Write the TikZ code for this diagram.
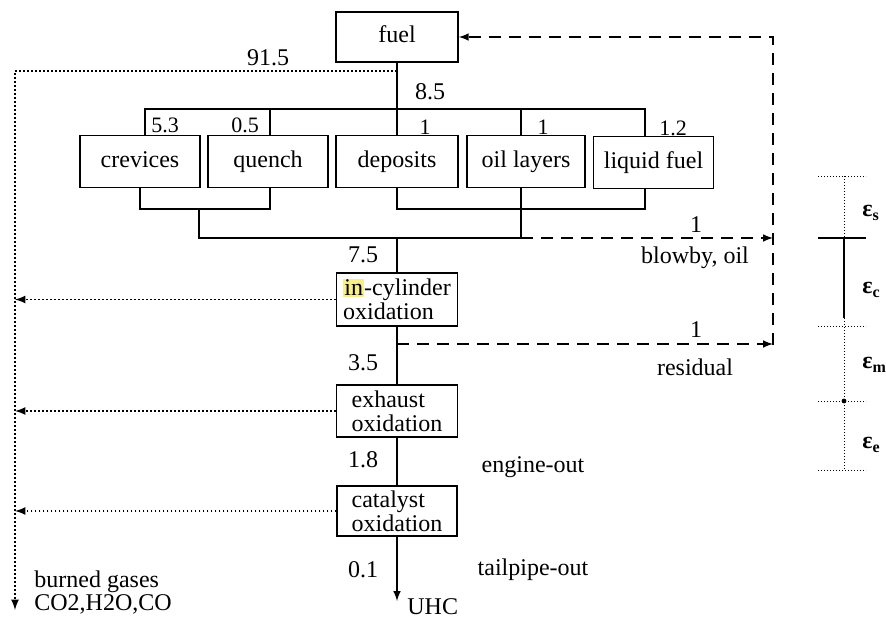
\documentclass[tikz,border=0pt]{standalone}
\usepackage{fontspec}
\setmainfont{Liberation Serif}
\definecolor{hilite}{RGB}{246,240,140}
\newcommand{\hlmark}[1]{{\setlength{\fboxsep}{0.6pt}\colorbox{hilite}{#1}}}
\newcommand{\effsym}[1]{\textbf{ε}\textsubscript{\textbf{#1}}}
\tikzset{
  box/.style={draw, line width=0.7pt, minimum width=60pt, minimum height=26pt,
    inner sep=2pt, align=left, font=\fontsize{12}{12}\selectfont},
  rowbox/.style={box, text height=8.5pt, text depth=2.5pt},
  lbl/.style={font=\fontsize{12}{13}\selectfont, inner sep=0pt},
  sublbl/.style={font=\fontsize{11}{12}\selectfont, inner sep=0pt},
  epslbl/.style={font=\fontsize{12}{12}\selectfont, inner sep=0pt},
  flow/.style={line width=0.7pt},
  loopback/.style={line width=0.7pt, dash pattern=on 6pt off 4pt},
  burn/.style={line width=0.8pt, dash pattern=on 0.8pt off 1.2pt},
  tick/.style={line width=0.5pt, dash pattern=on 0.6pt off 0.9pt},
}
\begin{document}
\begin{tikzpicture}[x=0.5pt,y=-0.5pt]
\useasboundingbox (0,0) rectangle (886,620);

% Boxes
\node[rowbox, minimum width=61pt, minimum height=25pt] (fuel) at (397,37) {fuel};
\node[rowbox] (crev) at (140,161.5) {crevices};
\node[rowbox] (quench) at (268,161.5) {quench};
\node[rowbox, minimum width=61pt] (dep) at (397,161.5) {deposits};
\node[rowbox, minimum width=59pt] (oil) at (526,161.5) {oil layers};
\node[rowbox] (liq) at (653.5,162.5) {liquid fuel};
\node[box, minimum width=60.5pt, minimum height=26.5pt] (cyl) at (397,299.5) {\hlmark{in}-cylinder\\oxidation};
\node[box, minimum width=60.5pt] (exh) at (397,411) {exhaust\\oxidation};
\node[box, minimum height=25pt] (cat) at (397,511) {catalyst\\oxidation};
\node[lbl, anchor=west] (uhc) at (407,607) {UHC};

% Branch points
\coordinate (split) at (397,71);
\coordinate (busL) at (145,109);
\coordinate (busR) at (645,109);
\coordinate (qx) at (270,109);
\coordinate (ox) at (521,109);
\coordinate (uL1) at (140,209);
\coordinate (uL2) at (270,209);
\coordinate (uR1) at (397,209);
\coordinate (uR2) at (645,209);
\coordinate (cL) at (199,209);
\coordinate (join) at (199,238);
\coordinate (merge) at (397,238);
\coordinate (blow) at (521,238);
\coordinate (res) at (397,344);
\coordinate (ret) at (773,37);
\coordinate (retB) at (773,345);
\coordinate (burnT) at (15,71);
\coordinate (burnB) at (15,610);
\coordinate (tail) at (397,601);

% Main flow
\draw[flow] (fuel) -- (dep);
\draw[flow] (busL |- crev.north) -- (busL) -- (busR) -- (busR |- liq.north);
\draw[flow] (qx) -- (qx |- quench.north);
\draw[flow] (ox) -- (ox |- oil.north);
\draw[flow] (uL1 |- crev.south) -- (uL1) -- (uL2) -- (uL2 |- quench.south);
\draw[flow] (uR1 |- dep.south) -- (uR1) -- (uR2) -- (uR2 |- liq.south);
\draw[flow] (cL) -- (join) -- (blow) -- (blow |- oil.south);
\draw[flow] (merge) -- (cyl);
\draw[flow] (cyl) -- (exh);
\draw[flow] (exh) -- (cat);
\draw[flow,-latex] (cat) -- (tail);

% Recycled to fuel
\draw[loopback,-latex] (retB) -- (ret) -- (fuel.east);
\draw[loopback,-latex] (blow) -- (blow -| ret);
\draw[loopback,-latex] (res) -- (res -| ret);

% Burned gases
\draw[burn,-latex] (split) -- (burnT) -- (burnB);
\foreach \b in {cyl,exh,cat}
    \draw[burn,-latex] (\b.west) -- (\b.west -| burnT);

% Labels
\node[lbl] (total) at (268,58) {91.5};
\node[lbl] (hc) at (430,92) {8.5};
\foreach \x/\y/\txt [count=\i] in {165/125/5.3, 245/125/0.5, 425/127/1, 543/127/1, 673/128/1.2}
    \node[sublbl] (share\i) at (\x,\y) {\txt};
\foreach \y/\txt [count=\i] in {255/7.5, 363/3.5, 460/1.8, 570/0.1}
    \node[lbl] (left\i) at (363,\y) {\txt};
\foreach \x/\y/\txt [count=\i] in {
    696/225/1,
    695/258/{blowby, oil},
    696/330/1,
    695/367/residual,
    533/467/engine-out,
    533/570/tailpipe-out}
    \node[lbl] (side\i) at (\x,\y) {\txt};
\node[lbl, align=left, anchor=west, font=\fontsize{12}{11.5}\selectfont] (gases) at (34,593) {burned gases\\CO2,H2O,CO};

% Efficiency scale
\draw[tick] (844,176) -- (844,238);
\draw[flow] (844,238) -- (844,318);
\draw[tick] (844,318) -- (844,470);
\foreach \y in {176,326,401,470}
    \draw[tick] (818,\y) -- (866,\y);
\draw[flow] (818,238) -- (866,238);
\fill (844,401) circle (1.2pt);
\foreach \y/\s [count=\i] in {213/s, 290/c, 365/m, 445/e}
    \node[epslbl, anchor=west] (eps\i) at (862,\y) {\effsym{\s}};

\end{tikzpicture}
\end{document}
